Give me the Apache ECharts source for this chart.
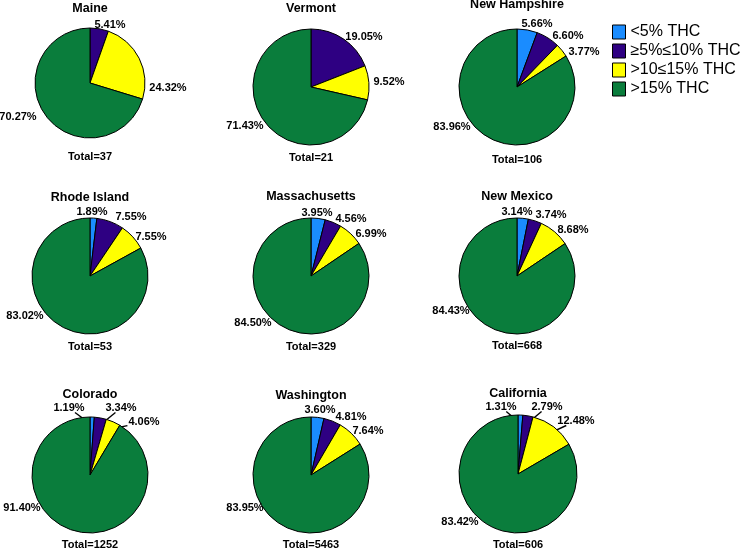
<!DOCTYPE html>
<html>
<head>
<meta charset="utf-8">
<script src="https://cdn.jsdelivr.net/npm/echarts@6/dist/echarts.min.js"></script>
<style>
html,body{margin:0;padding:0;background:#fff;}
#chart{width:740px;height:550px;}
</style>
</head>
<body>
<div id="chart"></div>
<script>
// ---- data ----
var states = ['Maine', 'Vermont', 'New Hampshire', 'Rhode Island', 'Massachusetts', 'New Mexico', 'Colorado', 'Washington', 'California'];
var totals = [37, 21, 106, 53, 329, 668, 1252, 5463, 606];
var categories = ['<5% THC', '≥5%≤10% THC', '>10≤15% THC', '>15% THC'];
var lt5 = [0, 0, 5.66, 1.89, 3.95, 3.14, 1.19, 3.60, 1.31];
var p5to10 = [5.41, 19.05, 6.60, 7.55, 4.56, 3.74, 3.34, 4.81, 2.79];
var p10to15 = [24.32, 9.52, 3.77, 7.55, 6.99, 8.68, 4.06, 7.64, 12.48];
var gt15 = [70.27, 71.43, 83.96, 83.02, 84.50, 84.43, 91.40, 83.95, 83.42];

// ---- styling / layout (not data) ----
var colors = ['#1a8cff', '#2e0082', '#ffff00', '#0a7d3c'];
// pie centre, radius, title centre y, total centre y
var layout = [
  {c: [90, 83], r: 55, ty: 9, tt: 157},
  {c: [311, 87], r: 58, ty: 9, tt: 158},
  {c: [517, 87], r: 58, ty: 5, tt: 160},
  {c: [90, 276], r: 58, ty: 198, tt: 347},
  {c: [311, 276], r: 58, ty: 197, tt: 347},
  {c: [517, 276], r: 58, ty: 197, tt: 346},
  {c: [90, 475], r: 58, ty: 395, tt: 545},
  {c: [311, 475], r: 58, ty: 396, tt: 545},
  {c: [518, 474], r: 59, ty: 394, tt: 545}
];
// hand-placed label anchors (text centres) as in the reference, per category
var labelAt = [
  [null, [110, 25], [168, 88], [18, 117]],
  [null, [364, 37], [389, 82], [245, 126]],
  [[537, 24], [568, 36], [584, 52], [452, 127]],
  [[92, 212], [131, 217], [151, 237], [25, 316]],
  [[317, 213], [351, 219], [371, 234], [253, 323]],
  [[517, 212], [551, 215], [573, 230], [451, 311]],
  [[69, 408], [121, 408], [144, 422], [22, 508]],
  [[320, 410], [351, 417], [368, 431], [245, 508]],
  [[501, 407], [547, 407], [576, 421], [460, 522]]
];
// leader lines in the reference for the small slices of these pies (category indices)
var leaderCats = {'Colorado': [0, 1, 2], 'California': [0, 1, 2]};
var FONT = '"Liberation Sans", Arial, sans-serif';

var seriesVals = [lt5, p5to10, p10to15, gt15];
var series = [];
var titles = [];
states.forEach(function (st, i) {
  var L = layout[i];
  var data = [];
  var cats = [];
  var mids = [];
  var sum = 0;
  categories.forEach(function (cat, k) { sum += seriesVals[k][i]; });
  var cum = 0;
  categories.forEach(function (cat, k) {
    var v = seriesVals[k][i];
    if (v > 0) {
      data.push({name: cat, value: v, itemStyle: {color: colors[k]}});
      cats.push(k);
      mids.push((cum + v / 2) / sum * Math.PI * 2);
      cum += v;
    }
  });
  var leaders = leaderCats[st] || [];
  series.push({
    type: 'pie',
    name: st,
    center: L.c,
    radius: L.r,
    startAngle: 90,
    clockwise: true,
    avoidLabelOverlap: false,
    animation: false,
    itemStyle: {borderColor: '#000', borderWidth: 1},
    label: {
      show: true,
      position: 'outside',
      overflow: 'none',
      formatter: function (p) { return p.value.toFixed(2) + '%'; },
      fontFamily: FONT,
      fontWeight: 'bold',
      fontSize: 11,
      color: '#000'
    },
    labelLine: {show: leaders.length > 0, showAbove: true, lineStyle: {color: '#000', width: 1.4}},
    labelLayout: function (p) {
      var k = cats[p.dataIndex];
      var pos = labelAt[i][k];
      if (!pos) return {};
      var out = {x: pos[0], y: pos[1], align: 'center', verticalAlign: 'middle'};
      if (leaders.indexOf(k) >= 0) {
        var a = mids[p.dataIndex];
        var inner = [L.c[0] + Math.sin(a) * L.r * 0.86, L.c[1] - Math.cos(a) * L.r * 0.86];
        var dx = inner[0] - pos[0], dy = inner[1] - pos[1];
        var hw = p.labelRect.width / 2 + 1, hh = p.labelRect.height / 2 - 1;
        var t = Math.min(Math.abs(dx) > 0 ? hw / Math.abs(dx) : 1e9, Math.abs(dy) > 0 ? hh / Math.abs(dy) : 1e9);
        var start = [pos[0] + dx * t, pos[1] + dy * t];
        out.labelLinePoints = [inner, start, start];
      } else {
        out.labelLinePoints = [[pos[0], pos[1]], [pos[0], pos[1]], [pos[0], pos[1]]];
      }
      return out;
    },
    emphasis: {disabled: true},
    data: data
  });
  titles.push({
    text: st, left: L.c[0], top: L.ty - 7, textAlign: 'center', padding: 0,
    textStyle: {fontFamily: FONT, fontWeight: 'bold', fontSize: 12.5, color: '#000'}
  });
  titles.push({
    text: 'Total=' + totals[i], left: L.c[0], top: L.tt - 6, textAlign: 'center', padding: 0,
    textStyle: {fontFamily: FONT, fontWeight: 'bold', fontSize: 11, color: '#000'}
  });
});

var chart = echarts.init(document.getElementById('chart'), null, {renderer: 'canvas'});
chart.setOption({
  backgroundColor: '#fff',
  animation: false,
  color: colors,
  title: titles,
  legend: {
    orient: 'vertical',
    left: 607,
    top: 19,
    itemWidth: 13,
    itemHeight: 14,
    itemGap: 3,
    icon: 'rect',
    selectedMode: false,
    itemStyle: {borderColor: '#000', borderWidth: 1},
    textStyle: {fontFamily: FONT, fontSize: 16, color: '#000'},
    data: categories.map(function (c, k) { return {name: c, itemStyle: {color: colors[k]}}; })
  },
  series: series
});
</script>
</body>
</html>
